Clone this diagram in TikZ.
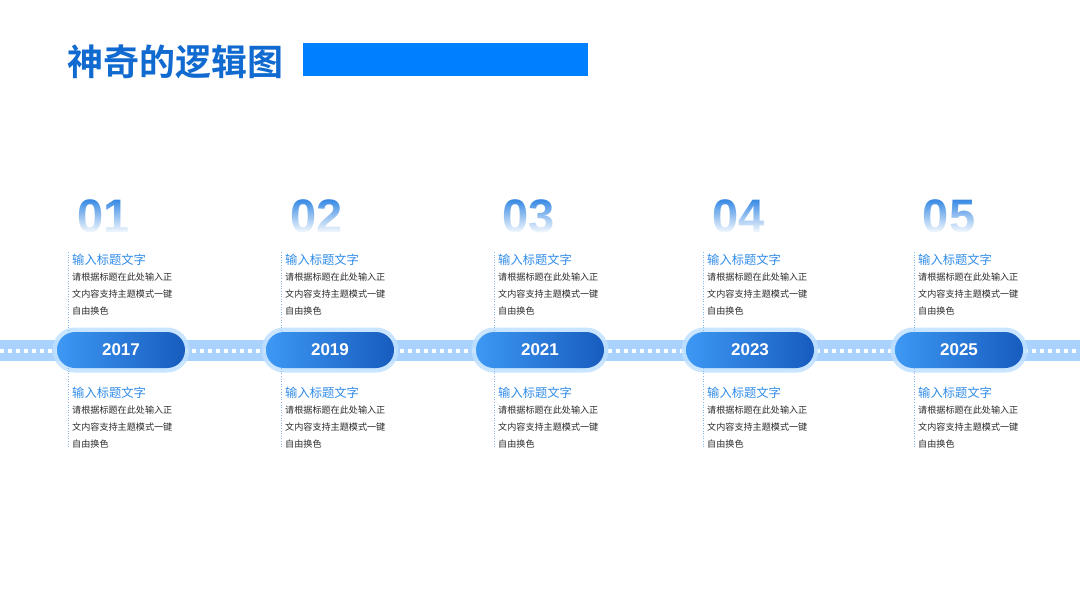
\documentclass[tikz,border=0pt]{standalone}
\usepackage{fontspec}
\setmainfont{Liberation Sans}
\newfontfamily\cjk[BoldFont={Noto Sans CJK SC Bold}]{Noto Sans CJK SC}
\usetikzlibrary{fadings}

\definecolor{titleblue}{HTML}{106AD0}
\definecolor{barblue}{HTML}{0080FF}
\definecolor{bandblue}{HTML}{A9D2FF}
\definecolor{glowblue}{HTML}{BFE0FF}
\definecolor{pillleft}{HTML}{3D98F4}
\definecolor{pillright}{HTML}{175CBE}
\definecolor{numblue}{HTML}{3A8BE4}
\definecolor{headblue}{HTML}{2E8BE8}
\definecolor{bodygray}{HTML}{2A2A2A}
\definecolor{dotblue}{HTML}{86B6EE}

\tikzfading[name=fadedown, top color=transparent!100, middle color=transparent!35, bottom color=transparent!0]

\tikzset{
  pill/.style={rounded corners=18pt, minimum width=128pt, minimum height=36pt,
    inner sep=0pt, left color=pillleft, right color=pillright, text=white,
    font=\bfseries\fontsize{17}{17}\selectfont,
    preaction={draw=glowblue, line width=9pt, opacity=.85}},
  bignum/.style={text=numblue, font=\bfseries\fontsize{47}{47}\selectfont, inner sep=0pt},
  numfade/.style={white, path fading=fadedown},
  head/.style={anchor=west, inner sep=0pt, text=headblue, font=\cjk\fontsize{12.3}{13}\selectfont},
  body/.style={anchor=north west, inner sep=0pt, align=left, text=bodygray,
    font=\cjk\fontsize{9.1}{16.7}\selectfont},
  vdots/.style={dotblue, line width=.9pt, dash pattern=on 1pt off 1.6pt}
}

\begin{document}
\begin{tikzpicture}[x=1pt,y=-1pt]
\useasboundingbox (0,0) rectangle (1080,608);

% title
\node[anchor=west, inner sep=0pt, text=titleblue, font=\cjk\bfseries\fontsize{36}{36}\selectfont] (title) at (67,62) {神奇的逻辑图};
\node[anchor=north west, inner sep=0pt, minimum width=285pt, minimum height=33pt, fill=barblue] (bar) at (303,43) {};

% band
\fill[bandblue] (0,340) rectangle (1080,361);
\draw[white, line width=4pt, dash pattern=on 4pt off 4pt] (0,350.5) -- (1080,350.5);

% year pills
\node[pill] (p1) at (121,350) {2017};
\node[pill] (p2) at (330,350) {2019};
\node[pill] (p3) at (540,350) {2021};
\node[pill] (p4) at (750,350) {2023};
\node[pill] (p5) at (959,350) {2025};

% numbers
\node[bignum] (n1) at (104,216) {01};
\node[bignum] (n2) at (317,216) {02};
\node[bignum] (n3) at (529,216) {03};
\node[bignum] (n4) at (739,216) {04};
\node[bignum] (n5) at (949,216) {05};
\fill[numfade] (70,200) rectangle (140,234);
\fill[numfade] (283,200) rectangle (352,234);
\fill[numfade] (495,200) rectangle (564,234);
\fill[numfade] (705,200) rectangle (774,234);
\fill[numfade] (915,200) rectangle (984,234);

% dotted guides
\coordinate (t1) at (68,252);  \coordinate (b1) at (68,448);
\coordinate (t2) at (281,252); \coordinate (b2) at (281,448);
\coordinate (t3) at (494,252); \coordinate (b3) at (494,448);
\coordinate (t4) at (703,252); \coordinate (b4) at (703,448);
\coordinate (t5) at (914,252); \coordinate (b5) at (914,448);
\draw[vdots] (t1) -- (t1 |- p1.north);  \draw[vdots] (t1 |- p1.south) -- (b1);
\draw[vdots] (t2) -- (t2 |- p2.north);  \draw[vdots] (t2 |- p2.south) -- (b2);
\draw[vdots] (t3) -- (t3 |- p3.north);  \draw[vdots] (t3 |- p3.south) -- (b3);
\draw[vdots] (t4) -- (t4 |- p4.north);  \draw[vdots] (t4 |- p4.south) -- (b4);
\draw[vdots] (t5) -- (t5 |- p5.north);  \draw[vdots] (t5 |- p5.south) -- (b5);

% upper texts
\node[head] (h1) at (72,260) {输入标题文字};
\node[head] (h2) at (285,260) {输入标题文字};
\node[head] (h3) at (498,260) {输入标题文字};
\node[head] (h4) at (707,260) {输入标题文字};
\node[head] (h5) at (918,260) {输入标题文字};
\node[body] (s1) at (72,273) {请根据标题在此处输入正\\文内容支持主题模式一键\\自由换色};
\node[body] (s2) at (285,273) {请根据标题在此处输入正\\文内容支持主题模式一键\\自由换色};
\node[body] (s3) at (498,273) {请根据标题在此处输入正\\文内容支持主题模式一键\\自由换色};
\node[body] (s4) at (707,273) {请根据标题在此处输入正\\文内容支持主题模式一键\\自由换色};
\node[body] (s5) at (918,273) {请根据标题在此处输入正\\文内容支持主题模式一键\\自由换色};

% lower texts
\node[head] (g1) at (72,393) {输入标题文字};
\node[head] (g2) at (285,393) {输入标题文字};
\node[head] (g3) at (498,393) {输入标题文字};
\node[head] (g4) at (707,393) {输入标题文字};
\node[head] (g5) at (918,393) {输入标题文字};
\node[body] (u1) at (72,406) {请根据标题在此处输入正\\文内容支持主题模式一键\\自由换色};
\node[body] (u2) at (285,406) {请根据标题在此处输入正\\文内容支持主题模式一键\\自由换色};
\node[body] (u3) at (498,406) {请根据标题在此处输入正\\文内容支持主题模式一键\\自由换色};
\node[body] (u4) at (707,406) {请根据标题在此处输入正\\文内容支持主题模式一键\\自由换色};
\node[body] (u5) at (918,406) {请根据标题在此处输入正\\文内容支持主题模式一键\\自由换色};
\end{tikzpicture}
\end{document}
